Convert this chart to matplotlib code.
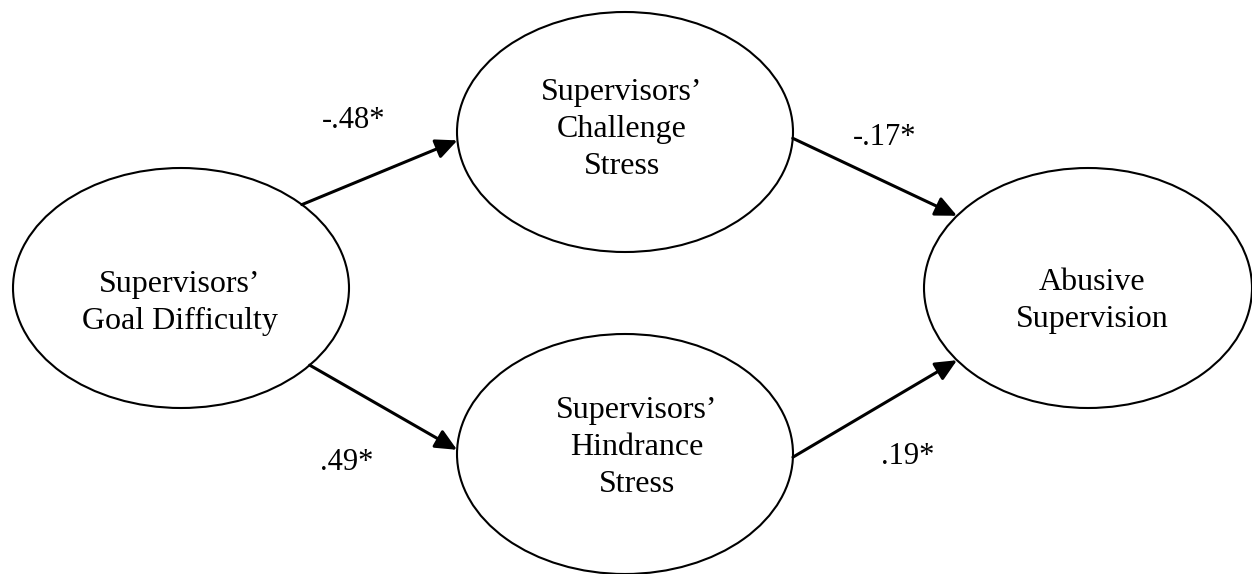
import matplotlib.pyplot as plt
from matplotlib.patches import Ellipse
import numpy as np

# nodes of the path model, one entry per text line
node_names = ["goal", "challenge", "hindrance", "abusive"]
node_lines = [
    ["Supervisors\u2019", "Goal Difficulty"],
    ["Supervisors\u2019", "Challenge", "Stress"],
    ["Supervisors\u2019", "Hindrance", "Stress"],
    ["Abusive", "Supervision"],
]

# paths and their coefficients
path_from = ["goal", "challenge", "goal", "hindrance"]
path_to = ["challenge", "abusive", "hindrance", "abusive"]
path_coef = ["-.48*", "-.17*", ".49*", ".19*"]

# layout in pixels (y goes down)
node_xy = {"goal": (181, 288), "challenge": (625, 132),
           "hindrance": (625, 454), "abusive": (1088, 288)}
node_r = {"goal": (168, 120), "challenge": (168, 120),
          "hindrance": (168, 120), "abusive": (164, 120)}
text_xy = {"goal": (180, 292), "challenge": (622, 100),
           "hindrance": (637, 418), "abusive": (1092, 290)}
line_gap = 37
# where each arrow leaves / enters the ellipse (param angle, deg)
path_angles = [(-44, 176), (3, 217), (40, 182), (1.5, 143)]
coef_xy = [(354, 128), (885, 145), (347, 470), (908, 464)]

plt.rcParams['font.family'] = ['Liberation Serif', 'DejaVu Serif']

fig = plt.figure(figsize=(12.52, 5.74), dpi=100)
ax = fig.add_axes([0, 0, 1, 1])
ax.set_xlim(0, 1252)
ax.set_ylim(574, 0)
ax.axis('off')


def on_ellipse(name, deg):
    cx, cy = node_xy[name]
    rx, ry = node_r[name]
    t = np.deg2rad(deg)
    return (cx + rx*np.cos(t), cy + ry*np.sin(t))


for name, lines in zip(node_names, node_lines):
    cx, cy = node_xy[name]
    rx, ry = node_r[name]
    ax.add_patch(Ellipse((cx, cy), 2*rx, 2*ry, fill=False,
                         edgecolor='black', lw=1.5))
    tx, ty = text_xy[name]
    for i, s in enumerate(lines):
        ax.text(tx, ty + i*line_gap, s, ha='center', va='baseline',
                fontsize=23, color='black')

for src, dst, (a0, a1), coef, (lx, ly) in zip(path_from, path_to, path_angles,
                                              path_coef, coef_xy):
    p0 = on_ellipse(src, a0)
    p1 = on_ellipse(dst, a1)
    ax.annotate('', xy=p1, xytext=p0,
                arrowprops=dict(arrowstyle='-|>,head_length=1.3,head_width=0.6',
                                mutation_scale=10, lw=2.2, color='black',
                                shrinkA=0, shrinkB=0))
    ax.text(lx, ly, coef, ha='center', va='baseline', fontsize=22, color='black')

fig.savefig('out.png', dpi=100, facecolor='white')
